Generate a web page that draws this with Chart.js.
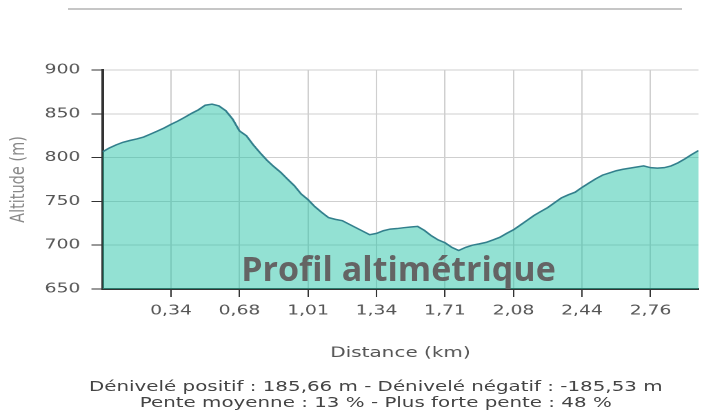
<!DOCTYPE html>
<html>
<head>
<meta charset="utf-8">
<script src="https://cdn.jsdelivr.net/npm/chart.js@4/dist/chart.umd.min.js"></script>
<style>
  body { margin: 0; width: 706px; height: 414px; overflow: hidden; background: #fff; position: relative; font-family: "DejaVu Sans", sans-serif; }
  #topLine { position: absolute; left: 68px; top: 8px; width: 614px; border-top: 2px solid #c6c6c6; }
  #wrap { position: absolute; left: 0; top: 0; width: 512px; height: 414px; transform: scaleX(1.379); transform-origin: 0 0; }
  #chartBox { position: relative; width: 512px; height: 370px; }
  #stats { position: absolute; left: 0; top: 378px; width: 545px; text-align: center; font-size: 14.4px; line-height: 16px; color: #444; white-space: nowrap; }
  #profileTitle { position: absolute; left: 0; top: 251px; width: 797px; text-align: center; font-family: "Open Sans", sans-serif; font-weight: 700; font-size: 34px; line-height: 34px; color: #646464; white-space: nowrap; }
</style>
</head>
<body>
<div id="topLine"></div>
<div id="wrap">
  <div id="chartBox"><canvas id="profileChart"></canvas></div>
  <div id="stats">Dénivelé positif : 185,66 m - Dénivelé négatif : -185,53 m<br>Pente moyenne : 13 % - Plus forte pente : 48 %</div>
</div>
<div id="profileTitle">Profil altimétrique</div>
<script>
// distance tick labels, one every 10 samples
const distanceLabels = ['0,34', '0,68', '1,01', '1,34', '1,71', '2,08', '2,44', '2,76'];
const altitudeTicks = [650, 700, 750, 800, 850, 900];
// altitude (m) per sample, read from the profile
const altitudes = [
    806.5, 811, 814.5, 817.5, 819.5, 821.3, 823.5, 826.8, 830.2, 833.8,
    837.9, 841.7, 846, 850.5, 854.5, 859.8, 861, 859, 853.5, 844,
    830.5, 825, 814.7, 805.5, 797, 789.8, 783.3, 775.5, 768, 758.5,
    752, 744, 737.5, 731.5, 729.5, 728, 724, 720, 716, 712,
    713.5, 716.5, 718.4, 719, 720, 720.8, 721.5, 716.8, 710.8, 706,
    702.8, 697.5, 694, 697.5, 700, 701.5, 703.2, 706, 709, 713.5,
    717.6, 723, 728.5, 734, 738.5, 743, 748.5, 754, 757.5, 760.5,
    766, 771, 775.8, 780, 782.5, 785, 786.7, 788, 789.3, 790.5,
    788.5, 788, 788.5, 790.5, 794, 798.5, 803.5, 808
];

const gridColor = '#cfcfcf';
const axisColor = '#333';
const labelFont = { family: 'DejaVu Sans', size: 13.6 };

new Chart(document.getElementById('profileChart'), {
    type: 'line',
    data: {
        datasets: [{
            data: altitudes.map((a, i) => ({ x: i, y: a })),
            borderColor: '#327f8c',
            borderWidth: 1.5,
            backgroundColor: 'rgba(40, 195, 168, 0.5)',
            fill: 'start',
            pointRadius: 0,
            tension: 0
        }]
    },
    options: {
        responsive: true,
        maintainAspectRatio: false,
        animation: false,
        devicePixelRatio: 2,
        layout: { padding: { top: 70, right: 5.5, bottom: 0, left: 0 } },
        plugins: { legend: { display: false }, tooltip: { enabled: false } },
        scales: {
            x: {
                type: 'linear',
                min: 0,
                max: altitudes.length - 1,
                afterBuildTicks: s => { s.ticks = distanceLabels.map((_, k) => ({ value: (k + 1) * 10 })); },
                afterFit: s => { s.height = 81; },
                grid: { color: gridColor, tickColor: axisColor, tickLength: 8 },
                border: { color: axisColor, width: 2 },
                ticks: { callback: v => distanceLabels[v / 10 - 1], color: '#555', font: labelFont, padding: 6, maxRotation: 0, autoSkip: false },
                title: { display: true, text: 'Distance (km)', color: '#555', font: { family: 'DejaVu Sans', size: 14.5 }, padding: { top: 0, bottom: 8.3 } }
            },
            y: {
                min: 650,
                max: 900,
                afterBuildTicks: s => { s.ticks = altitudeTicks.map(v => ({ value: v })); },
                afterFit: s => { s.width = 74.3; },
                grid: { color: gridColor, tickColor: axisColor, tickLength: 8 },
                border: { color: axisColor, width: 2 },
                ticks: { color: '#555', font: labelFont, padding: 8 },
                title: { display: true, text: 'Altitude (m)', color: '#888', font: { family: 'DejaVu Sans', size: 14.5 }, padding: { top: 5, bottom: 0 } }
            }
        }
    }
});
</script>
</body>
</html>
